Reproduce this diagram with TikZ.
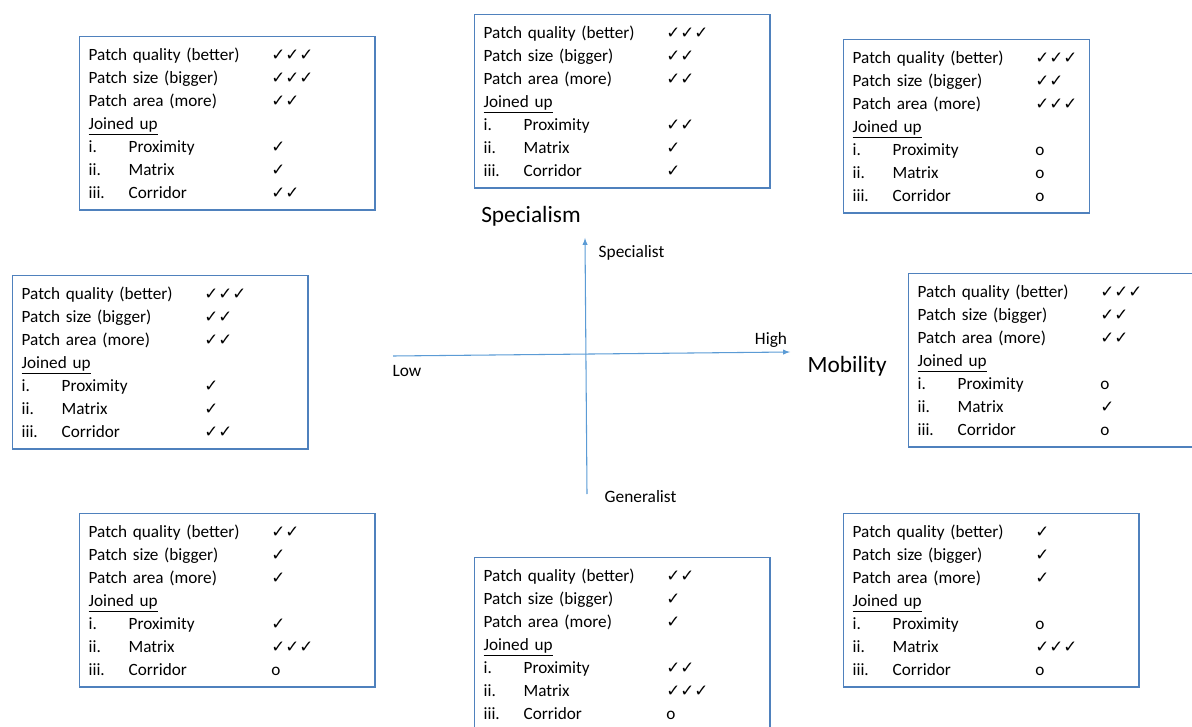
\documentclass[tikz,border=0pt]{standalone}
\usepackage{fontspec}
\setmainfont{Carlito}
\newfontfamily\tickfont{DejaVu Sans}
\usetikzlibrary{arrows,positioning}

\definecolor{boxblue}{RGB}{79,129,189}
\definecolor{axisblue}{RGB}{91,155,213}

\newcommand{\tk}[1]{{\tickfont\fontsize{12.5}{10}\selectfont #1}}
\newcommand{\toprow}[2]{\makebox[137pt][l]{#1}#2}
\newcommand{\subrow}[3]{\makebox[30pt][l]{#1}\makebox[107pt][l]{#2}#3}
\newcommand{\panelbody}[6]{%
  \toprow{Patch quality (better)}{#1}\\
  \toprow{Patch size (bigger)}{#2}\\
  \toprow{Patch area (more)}{#3}\\
  \underline{Joined up}\\
  \subrow{i.}{Proximity}{#4}\\
  \subrow{ii.}{Matrix}{#5}\\
  \subrow{iii.}{Corridor}{#6}}

\tikzset{
  panel/.style={draw=boxblue, line width=1pt, anchor=north west, align=left,
    text width=#1, inner xsep=6.75pt, minimum height=130pt,
    font=\fontsize{12.9}{17.25}\selectfont},
  panel/.default=208pt,
  axis/.style={draw=axisblue, line width=0.8pt, -latex},
  tag/.style={font=\fontsize{13}{15}\selectfont},
  title/.style={font=\fontsize{17.5}{21}\selectfont}
}

\begin{document}
\begin{tikzpicture}[x=0.75pt, y=-0.75pt]
  \useasboundingbox (0,0) rectangle (1192,727);

  % quadrant panels
  \node[panel] (tl) at (79,36) {\panelbody{\tk{✓✓✓}}{\tk{✓✓✓}}{\tk{✓✓}}{\tk{✓}}{\tk{✓}}{\tk{✓✓}}};
  \node[panel] (tc) at (474,14) {\panelbody{\tk{✓✓✓}}{\tk{✓✓}}{\tk{✓✓}}{\tk{✓✓}}{\tk{✓}}{\tk{✓}}};
  \node[panel=171pt] (tr) at (843,39) {\panelbody{\tk{✓✓✓}}{\tk{✓✓}}{\tk{✓✓✓}}{o}{o}{o}};
  \node[panel] (ml) at (12,275) {\panelbody{\tk{✓✓✓}}{\tk{✓✓}}{\tk{✓✓}}{\tk{✓}}{\tk{✓}}{\tk{✓✓}}};
  \node[panel] (mr) at (908,273) {\panelbody{\tk{✓✓✓}}{\tk{✓✓}}{\tk{✓✓}}{o}{\tk{✓}}{o}};
  \node[panel] (bl) at (79,513) {\panelbody{\tk{✓✓}}{\tk{✓}}{\tk{✓}}{\tk{✓}}{\tk{✓✓✓}}{o}};
  \node[panel] (bc) at (474,557) {\panelbody{\tk{✓✓}}{\tk{✓}}{\tk{✓}}{\tk{✓✓}}{\tk{✓✓✓}}{o}};
  \node[panel] (br) at (843,513) {\panelbody{\tk{✓}}{\tk{✓}}{\tk{✓}}{o}{\tk{✓✓✓}}{o}};

  % axes
  \coordinate (low) at (393,356);
  \coordinate (high) at (790,352);
  \coordinate (gen) at (587,494);
  \coordinate (spec) at (585,238);
  \draw[axis] (low) -- (high);
  \draw[axis] (gen) -- (spec);

  \node[title] (specialism) at (531,216) {Specialism};
  \node[title, anchor=west] (mobility) at (803,366) {Mobility};
  \node[tag, anchor=west] (specialist) at (594,253) {Specialist};
  \node[tag] (highlbl) at (771,340) {High};
  \node[tag] (lowlbl) at (407,371) {Low};
  \node[tag, anchor=west] (generalist) at (600,497) {Generalist};
\end{tikzpicture}
\end{document}
